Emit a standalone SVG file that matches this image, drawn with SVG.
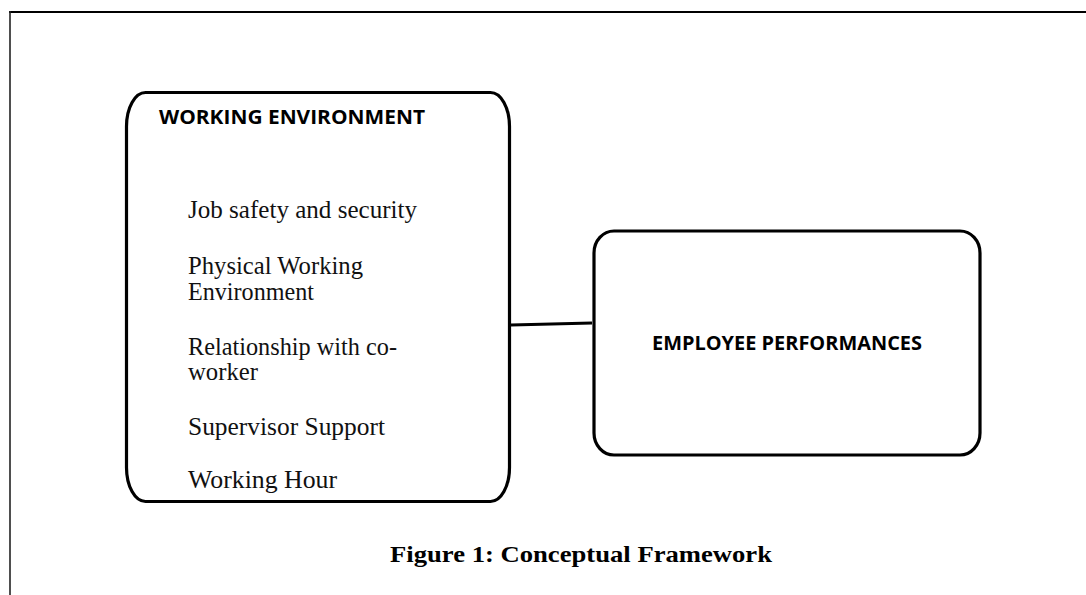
<svg xmlns="http://www.w3.org/2000/svg" width="1086" height="595" viewBox="0 0 1086 595">
  <style>
    .box { fill: #ffffff; stroke: #000000; stroke-width: 3.2; }
    .head { font-family: "Open Sans", "Liberation Sans", sans-serif; font-weight: 700; font-size: 19px; fill: #000000; }
    .item { font-family: "Liberation Serif", "Times New Roman", serif; font-size: 25px; fill: #111111; }
    .cap { font-family: "Liberation Serif", "Times New Roman", serif; font-weight: 700; font-size: 23px; fill: #000000; }
    .link { stroke: #000000; stroke-width: 3.2; fill: none; }
  </style>
  <rect width="1086" height="595" fill="#ffffff"/>

  <!-- outer frame (top and left edges) -->
  <g id="frame">
    <line x1="9" y1="12" x2="1086" y2="12" stroke="#000000" stroke-width="2.2"/>
    <line x1="10" y1="11" x2="10" y2="595" stroke="#222222" stroke-width="1.6"/>
  </g>

  <!-- connector between the two blocks -->
  <g id="connectors">
    <line class="link" x1="511" y1="325" x2="592" y2="323"/>
  </g>

  <!-- independent variable block -->
  <g id="working-environment">
    <rect class="box" x="126.5" y="92.5" width="383" height="409" rx="19" ry="34"/>
    <text class="head" x="159" y="124" textLength="266" lengthAdjust="spacingAndGlyphs">WORKING ENVIRONMENT</text>
    <text class="item" x="188" y="218" textLength="229" lengthAdjust="spacingAndGlyphs">Job safety and security</text>
    <text class="item" x="188" y="274" textLength="175" lengthAdjust="spacingAndGlyphs">Physical Working</text>
    <text class="item" x="188" y="300" textLength="126" lengthAdjust="spacingAndGlyphs">Environment</text>
    <text class="item" x="188" y="355" textLength="209" lengthAdjust="spacingAndGlyphs">Relationship with co-</text>
    <text class="item" x="188" y="380" textLength="70" lengthAdjust="spacingAndGlyphs">worker</text>
    <text class="item" x="188" y="435" textLength="197" lengthAdjust="spacingAndGlyphs">Supervisor Support</text>
    <text class="item" x="188" y="488" textLength="149" lengthAdjust="spacingAndGlyphs">Working Hour</text>
  </g>

  <!-- dependent variable block -->
  <g id="employee-performances">
    <rect class="box" x="594" y="231" width="386" height="224" rx="20" ry="22"/>
    <text class="head" x="652" y="350" textLength="270" lengthAdjust="spacingAndGlyphs">EMPLOYEE PERFORMANCES</text>
  </g>

  <!-- caption -->
  <g id="caption">
    <text class="cap" x="390" y="562" textLength="382" lengthAdjust="spacingAndGlyphs">Figure 1: Conceptual Framework</text>
  </g>
</svg>
